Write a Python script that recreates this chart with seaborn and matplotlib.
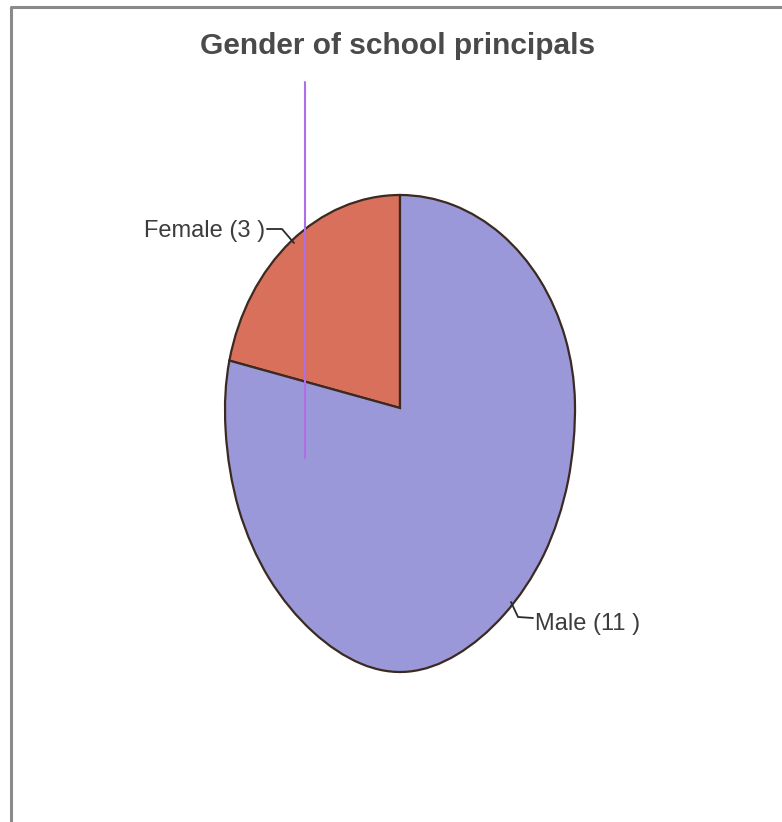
import numpy as np
import matplotlib
matplotlib.use("Agg")
import matplotlib.pyplot as plt
from matplotlib.path import Path
from matplotlib.patches import PathPatch
import seaborn as sns

# ---- data ----
categories = ["Female", "Male"]
counts = [3, 11]
colors = ["#d9705c", "#9a98d8"]
title = "Gender of school principals"

sns.set_theme(style="white")
plt.rcParams['font.family'] = ['Liberation Sans Narrow', 'Liberation Sans', 'DejaVu Sans']

fig = plt.figure(figsize=(7.82, 8.22), dpi=100)
fig.patch.set_facecolor("white")
ax = fig.add_axes([0, 0, 1, 1])

# pie in unit coordinates, then mapped onto the (scan-distorted) egg shape
wedges, _ = ax.pie(counts, colors=colors, startangle=90, counterclock=True,
                   radius=1, center=(0, 0),
                   wedgeprops=dict(edgecolor="#3a2a22", linewidth=1.6))
ax.set_aspect("auto")
ax.set_xlim(0, 782)
ax.set_ylim(822, 0)
ax.axis("off")

cx, cy = 400, 408
rx, ry_top, ry_bot = 175, 213, 264
for w in wedges:
    p = w.get_path()
    v = p.vertices.copy()
    u, t = v[:, 0], v[:, 1]
    narrow = np.where(t < 0, 1 - 0.12 * t ** 4, 1.0)
    X = cx + rx * u * narrow
    Y = np.where(t > 0, cy - ry_top * t, cy - ry_bot * t)
    newp = Path(np.column_stack([X, Y]), p.codes)
    ax.add_patch(PathPatch(newp, facecolor=w.get_facecolor(),
                           edgecolor="#3a2a22", linewidth=1.6, zorder=2))
    w.remove()

# frame
ax.plot([11, 11, 790], [830, 7, 7], color="#8a8a8a", linewidth=2.2, zorder=5)

# title
ax.text(398, 54, title, ha="center", va="baseline", fontsize=21.5,
        fontweight="bold", color="#4a4a4a", family=["Liberation Sans", "DejaVu Sans"])

# labels with leader lines
text_col = "#3c3c3c"
ax.text(265, 231, f"{categories[0]} ({counts[0]} )", ha="right", va="center",
        fontsize=17, color=text_col)
ax.plot([267, 282, 294], [229, 229, 243], color="#2a2a2a", linewidth=1.3, zorder=3)

ax.text(535, 624, f"{categories[1]} ({counts[1]} )", ha="left", va="center",
        fontsize=17, color=text_col)
ax.plot([511, 518, 533], [602, 617, 618], color="#2a2a2a", linewidth=1.3, zorder=3)

# violet scan line
ax.plot([305, 305], [82, 458], color="#b06ee6", linewidth=1.5, zorder=4)

fig.savefig("out.png", dpi=100, facecolor="white")
